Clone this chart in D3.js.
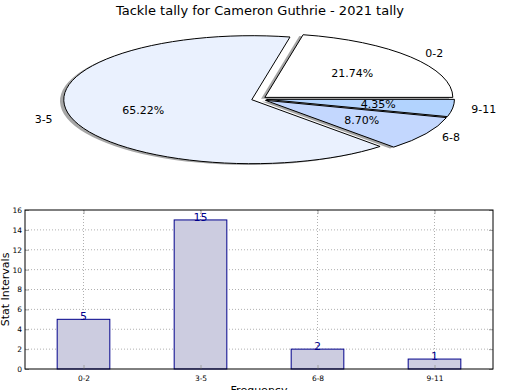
<!DOCTYPE html>
<html>
<head>
<meta charset="utf-8">
<script src="https://cdn.jsdelivr.net/npm/d3@7"></script>
<style>
  body { margin: 0; background: #fff; }
  svg { font-family: "DejaVu Sans", sans-serif; }
</style>
</head>
<body>
<svg width="520" height="390"></svg>
<script>
var categories = ["0-2", "3-5", "6-8", "9-11"];
var counts = [5, 15, 2, 1];
var sliceColors = ["#ffffff", "#eaf1fe", "#c3d7fe", "#b2d3fe"];
var yTicks = [0, 2, 4, 6, 8, 10, 12, 14, 16];

var svg = d3.select("svg");

svg.append("text")
    .attr("x", 260).attr("y", 15)
    .attr("text-anchor", "middle")
    .style("font-size", "13px")
    .text("Tackle tally for Cameron Guthrie - 2021 tally");

// ---- pie (elliptical, like matplotlib with non-equal aspect) ----
var cx = 259, cy = 99, R = 188, ry = 64,
    explode = 0.04;

var total = d3.sum(counts);
var pie = d3.pie().sort(null)
    .startAngle(Math.PI / 2)
    .endAngle(Math.PI / 2 - 2 * Math.PI);
var arcs = pie(counts);
var arc = d3.arc().innerRadius(0).outerRadius(R);

var pg = svg.append("g")
    .attr("transform", "translate(" + cx + "," + cy + ") scale(1," + (ry / R) + ")");

function mid(d) { return (d.startAngle + d.endAngle) / 2; }
function off(d) { return [Math.sin(mid(d)) * explode * R, -Math.cos(mid(d)) * explode * R]; }

pg.selectAll("path.shadow")
  .data(arcs)
  .enter().append("path")
    .attr("class", "shadow")
    .attr("d", arc)
    .attr("transform", function(d) { var o = off(d); return "translate(" + (o[0] - 0.02 * R) + "," + (o[1] + 0.02 * R) + ")"; })
    .style("fill", "#4d4d4d")
    .style("fill-opacity", 0.5);

pg.selectAll("path.wedge")
  .data(arcs)
  .enter().append("path")
    .attr("class", "wedge")
    .attr("d", arc)
    .attr("transform", function(d) { var o = off(d); return "translate(" + o[0] + "," + o[1] + ")"; })
    .style("fill", function(d, i) { return sliceColors[i]; })
    .style("stroke", "#000")
    .style("stroke-width", 1)
    .attr("vector-effect", "non-scaling-stroke");

var lg = svg.append("g").style("font-size", "11px");

// category labels at 1.1 r, percentages at 0.6 r
arcs.forEach(function(d, i) {
  var o = off(d), m = mid(d);
  var ox = cx + o[0], oy = cy + o[1] * ry / R;
  var lx = ox + 1.1 * R * Math.sin(m), ly = oy - 1.1 * ry * Math.cos(m);
  lg.append("text")
      .attr("x", lx).attr("y", ly)
      .attr("dy", "0.35em")
      .attr("text-anchor", lx > ox ? "start" : "end")
      .text(categories[i]);
  lg.append("text")
      .attr("x", ox + 0.6 * R * Math.sin(m)).attr("y", oy - 0.6 * ry * Math.cos(m))
      .attr("dy", "0.35em")
      .attr("text-anchor", "middle")
      .text((counts[i] / total * 100).toFixed(2) + "%");
});

// ---- bar chart ----
var bLeft = 25, bRight = 493, bTop = 210, bBottom = 369;

var x = d3.scaleLinear().domain([-0.5, categories.length - 0.5]).range([bLeft, bRight]);
var y = d3.scaleLinear().domain([0, 16]).range([bBottom, bTop]);
var barW = 0.45;

var bg = svg.append("g");

// grid
bg.selectAll("line.gy")
  .data(yTicks.slice(1, -1))
  .enter().append("line")
    .attr("x1", bLeft).attr("x2", bRight)
    .attr("y1", function(d) { return y(d); }).attr("y2", function(d) { return y(d); })
    .style("stroke", "#b0b0b0").style("stroke-dasharray", "1,2");
bg.selectAll("line.gx")
  .data(categories)
  .enter().append("line")
    .attr("x1", function(d, i) { return x(i); }).attr("x2", function(d, i) { return x(i); })
    .attr("y1", bTop).attr("y2", bBottom)
    .style("stroke", "#b0b0b0").style("stroke-dasharray", "1,2");

bg.selectAll("rect.bar")
  .data(counts)
  .enter().append("rect")
    .attr("x", function(d, i) { return x(i - barW / 2); })
    .attr("width", x(barW) - x(0))
    .attr("y", function(d) { return y(d); })
    .attr("height", function(d) { return bBottom - y(d); })
    .style("fill", "#cccce0")
    .style("stroke", "#00008b")
    .style("stroke-width", 1);

bg.selectAll("text.val")
  .data(counts)
  .enter().append("text")
    .attr("x", function(d, i) { return x(i); })
    .attr("y", function(d) { return y(d) + 1; })
    .attr("text-anchor", "middle")
    .style("font-size", "11px")
    .style("fill", "#00008b")
    .text(function(d) { return d; });

// axes with inward ticks
var yAxis = d3.axisLeft(y).tickValues(yTicks).tickSizeInner(-4).tickSizeOuter(0).tickPadding(3);
var yAxisR = d3.axisRight(y).tickValues(yTicks).tickSizeInner(-4).tickSizeOuter(0).tickFormat("");
var xAxis = d3.axisBottom(x).tickValues(d3.range(categories.length))
    .tickFormat(function(i) { return categories[i]; })
    .tickSizeInner(-4).tickSizeOuter(0).tickPadding(7);
var xAxisT = d3.axisTop(x).tickValues(d3.range(categories.length))
    .tickSizeInner(-4).tickSizeOuter(0).tickFormat("");

function style(g) {
  g.select(".domain").remove();
  g.selectAll(".tick line").style("stroke", "#a0a0a0");
  g.selectAll(".tick text").style("font-size", "7.5px").style("fill", "#000")
      .style("font-family", "DejaVu Sans, sans-serif");
}
svg.append("g").attr("transform", "translate(" + bLeft + ",0)").call(yAxis).call(style);
svg.append("g").attr("transform", "translate(" + bRight + ",0)").call(yAxisR).call(style);
svg.append("g").attr("transform", "translate(0," + bBottom + ")").call(xAxis).call(style);
svg.append("g").attr("transform", "translate(0," + bTop + ")").call(xAxisT).call(style);

svg.append("rect")
    .attr("x", bLeft).attr("y", bTop)
    .attr("width", bRight - bLeft).attr("height", bBottom - bTop)
    .style("fill", "none").style("stroke", "#000").style("stroke-width", 1);

svg.append("text")
    .attr("transform", "translate(9," + ((bTop + bBottom) / 2) + ") rotate(-90)")
    .attr("text-anchor", "middle")
    .style("font-size", "11px")
    .text("Stat Intervals");

svg.append("text")
    .attr("x", (bLeft + bRight) / 2).attr("y", 394)
    .attr("text-anchor", "middle")
    .style("font-size", "11px")
    .text("Frequency");
</script>
</body>
</html>
